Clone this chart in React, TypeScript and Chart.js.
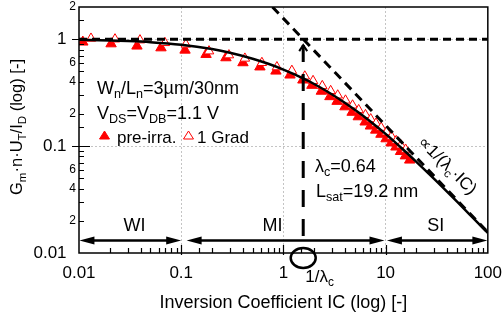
import React, { useEffect, useRef } from 'react';
import { Chart, registerables } from 'chart.js';

Chart.register(...registerables);

// ---- data ----
const curveIC = [0.01, 0.02, 0.03, 0.05, 0.1, 0.2, 0.3, 0.5, 0.7, 1, 1.5625, 2, 3, 5, 7, 10, 15, 20, 30, 50, 70, 100];
const curveG = [0.986, 0.973, 0.961, 0.938, 0.887, 0.808, 0.747, 0.657, 0.592, 0.52, 0.43, 0.381, 0.304, 0.219, 0.172, 0.13, 0.092, 0.0713, 0.0491, 0.0302, 0.0218, 0.0154];

const preIC = [0.0109, 0.0206, 0.0369, 0.0634, 0.109, 0.175, 0.274, 0.402, 0.589, 0.845, 1.16, 1.55, 1.9, 2.35, 2.85, 3.35, 4.0, 4.7, 5.4, 6.3, 7.1, 8.0, 9.0, 10.1, 11.3, 12.6, 14.0, 15.6, 17.2];
const preG = [0.94, 0.905, 0.862, 0.83, 0.79, 0.72, 0.67, 0.602, 0.55, 0.503, 0.462, 0.415, 0.37, 0.326, 0.29, 0.262, 0.233, 0.207, 0.188, 0.168, 0.154, 0.141, 0.129, 0.117, 0.107, 0.098, 0.089, 0.081, 0.074];

const gradIC = [0.0131, 0.0225, 0.0395, 0.0693, 0.111, 0.187, 0.293, 0.42, 0.616, 0.864, 1.21, 1.62, 1.95, 2.4, 2.9, 3.4, 4.05, 4.75, 5.45, 6.35, 7.15, 8.05, 9.05, 10.2, 11.4, 12.7, 14.1, 15.7];
const gradG = [1.016, 1.0, 0.98, 0.925, 0.894, 0.773, 0.71, 0.661, 0.602, 0.549, 0.508, 0.45, 0.408, 0.366, 0.329, 0.299, 0.268, 0.241, 0.218, 0.196, 0.179, 0.163, 0.149, 0.135, 0.123, 0.112, 0.102, 0.093];

const refIC = [0.01, 100];
const refG = [1, 1];
const asymIC = [0.78125, 100];
const asymG = [2, 0.015625];
const lambdaIC = [1.5625, 1.5625];
const lambdaG = [0.88, 0.011];

const xLabels = [0.01, 0.1, 1, 10, 100];
const yMajorLabels = [0.01, 0.1, 1];
const yMinorLabels = [0.02, 0.04, 0.06, 0.2, 0.4, 0.6, 2];
const xGrid = [0.1, 1, 10];
const yGrid = [0.1, 1];

const regionNames = ['WI', 'MI', 'SI'];
const regionFrom = [0.0101, 0.113, 10.3];
const regionTo = [0.1, 9.75, 99];
const regionLabelIC = [0.035, 0.78, 31];
const arrowG = 0.0131;

const FAMILY = '"Liberation Sans", Arial, Helvetica, sans-serif';

const pts = (xs: number[], ys: number[]) => xs.map((x, i) => ({ x, y: ys[i] }));
const near = (v: number, list: number[]) => list.some((t) => Math.abs(v / t - 1) < 1e-6);
const fmtDec = (v: number) => (v >= 1 ? String(Math.round(v)) : String(Number(v.toPrecision(1))));
const mant = (v: number) => String(Math.round(v / Math.pow(10, Math.floor(Math.log10(v) + 1e-9))));

type Seg = [string, boolean?];
const fnt = (s: number) => `${s}px ${FAMILY}`;

function richWidth(ctx: CanvasRenderingContext2D, segs: Seg[], size: number) {
  let w = 0;
  for (const [t, sub] of segs) {
    ctx.font = fnt(sub ? size * 0.7 : size);
    w += ctx.measureText(t).width;
  }
  return w;
}

function drawRich(ctx: CanvasRenderingContext2D, segs: Seg[], x: number, y: number, size: number, align: 'left' | 'center' = 'left') {
  let cx = align === 'center' ? x - richWidth(ctx, segs, size) / 2 : x;
  ctx.textAlign = 'left';
  ctx.textBaseline = 'alphabetic';
  for (const [t, sub] of segs) {
    ctx.font = fnt(sub ? size * 0.7 : size);
    ctx.fillText(t, cx, sub ? y + size * 0.24 : y);
    cx += ctx.measureText(t).width;
  }
}

function tri(ctx: CanvasRenderingContext2D, cx: number, baseY: number, w: number, h: number, filled: boolean) {
  ctx.beginPath();
  ctx.moveTo(cx, baseY - h);
  ctx.lineTo(cx + w / 2, baseY);
  ctx.lineTo(cx - w / 2, baseY);
  ctx.closePath();
  ctx.fillStyle = filled ? '#ff0000' : '#ffffff';
  ctx.fill();
  ctx.strokeStyle = '#ff0000';
  ctx.lineWidth = 1;
  ctx.stroke();
}

const overlayPlugin = {
  id: 'overlay',
  afterDraw(chart: any) {
    const ctx: CanvasRenderingContext2D = chart.ctx;
    const xs = chart.scales.x;
    const ys = chart.scales.y;
    const { left, right, top, bottom } = chart.chartArea;
    ctx.save();

    // frame
    ctx.strokeStyle = '#000';
    ctx.lineWidth = 1.5;
    ctx.strokeRect(left, top, right - left, bottom - top);

    // tick marks (inward)
    ctx.lineWidth = 1.2;
    ctx.beginPath();
    for (const t of xs.ticks) {
      const v = t.value;
      if (near(v, [0.01, 100])) continue;
      const px = Math.round(xs.getPixelForValue(v)) + 0.5;
      const major = near(v, xLabels);
      ctx.moveTo(px, bottom + (major ? 2 : 0));
      ctx.lineTo(px, bottom - (major ? 8 : 5));
    }
    for (const t of ys.ticks) {
      const v = t.value;
      if (near(v, [0.01, 2])) continue;
      const py = Math.round(ys.getPixelForValue(v)) + 0.5;
      const major = near(v, yMajorLabels);
      ctx.moveTo(left - (major ? 7 : 0), py);
      ctx.lineTo(left + (major ? 11 : 5), py);
    }
    ctx.stroke();

    // region arrows
    const ay = ys.getPixelForValue(arrowG);
    ctx.fillStyle = '#000';
    ctx.strokeStyle = '#000';
    for (let i = 0; i < regionNames.length; i++) {
      const x1 = xs.getPixelForValue(regionFrom[i]);
      const x2 = xs.getPixelForValue(regionTo[i]);
      ctx.lineWidth = 2.4;
      ctx.beginPath();
      ctx.moveTo(x1 + 6, ay);
      ctx.lineTo(x2 - 6, ay);
      ctx.stroke();
      ctx.beginPath();
      ctx.moveTo(x1, ay);
      ctx.lineTo(x1 + 15, ay - 4);
      ctx.lineTo(x1 + 15, ay + 4);
      ctx.closePath();
      ctx.fill();
      ctx.beginPath();
      ctx.moveTo(x2, ay);
      ctx.lineTo(x2 - 15, ay - 4);
      ctx.lineTo(x2 - 15, ay + 4);
      ctx.closePath();
      ctx.fill();
      ctx.font = fnt(18);
      ctx.textAlign = 'center';
      ctx.textBaseline = 'middle';
      ctx.fillText(regionNames[i], xs.getPixelForValue(regionLabelIC[i]), ay - 14);
    }

    // 1/lambda marker
    const lx = xs.getPixelForValue(lambdaIC[0]);
    ctx.lineWidth = 2.5;
    ctx.beginPath();
    ctx.ellipse(lx, bottom + 5, 12.5, 10, 0, 0, Math.PI * 2);
    ctx.stroke();
    const lTop = ys.getPixelForValue(lambdaG[0]);
    ctx.lineWidth = 2;
    ctx.beginPath();
    ctx.moveTo(lx - 4, lTop + 6);
    ctx.lineTo(lx, lTop);
    ctx.lineTo(lx + 4, lTop + 6);
    ctx.stroke();
    ctx.fillStyle = '#000';
    drawRich(ctx, [['1/λ'], ['c', true]], lx + 2, bottom + 29, 17);

    // annotations
    drawRich(ctx, [['W'], ['n', true], ['/L'], ['n', true], ['=3µm/30nm']], 97, 94, 18);
    drawRich(ctx, [['V'], ['DS', true], ['=V'], ['DB', true], ['=1.1 V']], 97, 119, 18);
    drawRich(ctx, [['λ'], ['c', true], ['=0.64']], 315, 172, 18);
    drawRich(ctx, [['L'], ['sat', true], ['=19.2 nm']], 316, 197, 18);

    // legend
    tri(ctx, 104.5, 139, 10, 8, true);
    ctx.fillStyle = '#000';
    drawRich(ctx, [['pre-irra.']], 117, 143, 17);
    tri(ctx, 188.5, 139, 10, 8, false);
    ctx.fillStyle = '#000';
    drawRich(ctx, [['1 Grad']], 197, 143, 17);

    // rotated asymptote label
    ctx.save();
    ctx.translate(448, 165);
    ctx.rotate(0.78);
    drawRich(ctx, [['∝1/(λ'], ['c', true], ['·IC)']], 0, 6, 17, 'center');
    ctx.restore();

    // y-axis title
    ctx.save();
    ctx.translate(22, 127);
    ctx.rotate(-Math.PI / 2);
    ctx.fillStyle = '#000';
    drawRich(ctx, [['G'], ['m', true], ['·n·U'], ['T', true], ['/I'], ['D', true], [' (log) [-]']], 0, 0, 16.5, 'center');
    ctx.restore();

    ctx.restore();
  },
};

export default function App() {
  const ref = useRef<HTMLCanvasElement>(null);
  useEffect(() => {
    Chart.defaults.font.family = FAMILY;
    Chart.defaults.color = '#000';
    const chart = new Chart(ref.current as HTMLCanvasElement, {
      type: 'scatter',
      data: {
        datasets: [
          {
            label: 'model',
            data: pts(curveIC, curveG),
            showLine: true,
            borderColor: '#000',
            borderWidth: 2.5,
            pointRadius: 0,
            cubicInterpolationMode: 'monotone',
          },
          {
            label: 'ref',
            data: pts(refIC, refG),
            showLine: true,
            borderColor: '#000',
            borderWidth: 3,
            borderDash: [8, 5],
            pointRadius: 0,
          },
          {
            label: 'asym',
            data: pts(asymIC, asymG),
            showLine: true,
            borderColor: '#000',
            borderWidth: 3,
            borderDash: [9, 6],
            pointRadius: 0,
          },
          {
            label: 'lambda',
            data: pts(lambdaIC, lambdaG),
            showLine: true,
            borderColor: '#000',
            borderWidth: 3,
            borderDash: [17, 12],
            pointRadius: 0,
          },
          {
            label: '1 Grad',
            data: pts(gradIC, gradG),
            showLine: false,
            pointStyle: 'triangle',
            pointRadius: 5.5,
            backgroundColor: '#ffffff',
            borderColor: '#ff0000',
            borderWidth: 1,
          },
          {
            label: 'pre-irra.',
            data: pts(preIC, preG),
            showLine: false,
            pointStyle: 'triangle',
            pointRadius: 6,
            backgroundColor: '#ff0000',
            borderColor: '#ff0000',
            borderWidth: 1,
          },
        ],
      },
      options: {
        responsive: false,
        animation: false,
        devicePixelRatio: 1,
        layout: { padding: { top: 7, right: 14, left: 0, bottom: 0 } },
        plugins: { legend: { display: false }, tooltip: { enabled: false } },
        scales: {
          x: {
            type: 'logarithmic',
            position: 'bottom',
            min: 0.01,
            max: 100,
            afterFit: (s: any) => {
              s.height = 69;
            },
            grid: {
              drawTicks: false,
              lineWidth: 1,
              color: (c: any) => (c.tick && near(c.tick.value, xGrid) ? '#c4c4c4' : 'rgba(0,0,0,0)'),
            },
            border: { display: false, dash: [2, 2] },
            ticks: {
              autoSkip: false,
              maxRotation: 0,
              padding: 0,
              color: '#000',
              font: { size: 17, family: FAMILY, lineHeight: 2.35 },
              callback: (v: any) => (near(Number(v), xLabels) ? fmtDec(Number(v)) : ''),
            },
            title: {
              display: true,
              text: 'Inversion Coefficient IC (log) [-]',
              color: '#000',
              font: { size: 18, family: FAMILY },
              padding: { top: 0, bottom: 8 },
            },
          },
          y: {
            type: 'logarithmic',
            position: 'left',
            min: 0.01,
            max: 2,
            afterFit: (s: any) => {
              s.width = 79;
            },
            grid: {
              drawTicks: false,
              lineWidth: 1,
              color: (c: any) => (c.tick && near(c.tick.value, yGrid) ? '#c4c4c4' : 'rgba(0,0,0,0)'),
            },
            border: { display: false, dash: [2, 2] },
            ticks: {
              autoSkip: false,
              padding: 3,
              color: '#000',
              font: (c: any) =>
                c.tick && near(c.tick.value, yMajorLabels)
                  ? { size: 17, family: FAMILY, lineHeight: 1.2 }
                  : { size: 12, family: FAMILY, lineHeight: 0.66 },
              callback: (v: any) => {
                const n = Number(v);
                if (near(n, yMajorLabels)) return fmtDec(n) + '  ';
                if (near(n, yMinorLabels)) return mant(n);
                return '';
              },
            },
          },
        },
      },
      plugins: [overlayPlugin],
    } as any);
    return () => chart.destroy();
  }, []);
  return (
    <div style={{ position: 'fixed', left: 0, top: 0, width: 502, height: 322, background: '#fff' }}>
      <canvas ref={ref} width={502} height={322} style={{ display: 'block', width: 502, height: 322 }} />
    </div>
  );
}
